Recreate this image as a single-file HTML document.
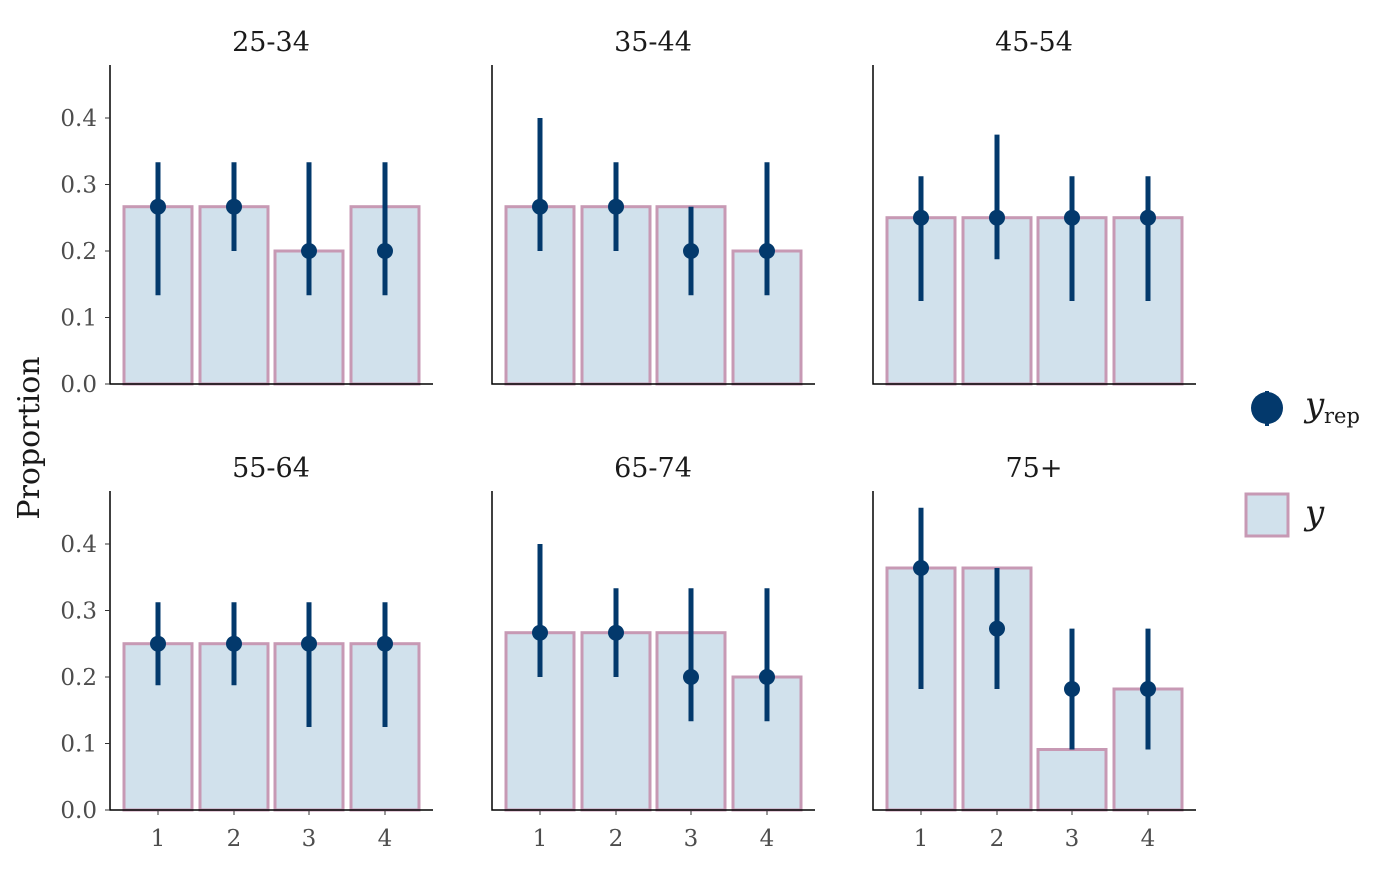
<!DOCTYPE html>
<html><head><meta charset="utf-8"><style>
body{margin:0;background:#fff}
svg text{font-family:"DejaVu Serif","Liberation Serif",serif}
.b{fill:#d1e1ec;stroke:#c799b4;stroke-width:3}
.l{stroke:#03396c;stroke-width:5}
.p{fill:#03396c}
.ax{stroke:#000;stroke-width:1.5;fill:none}
</style></head><body>
<svg width="1400" height="866" xmlns="http://www.w3.org/2000/svg">
<defs>
<g id="yt" font-size="23" fill="#4d4d4d">
<text x="-13" y="8" text-anchor="end">0.0</text><line x1="-5" x2="0" y1="0" y2="0" stroke="#333"/>
<text x="-13" y="-58.5" text-anchor="end">0.1</text><line x1="-5" x2="0" y1="-66.5" y2="-66.5" stroke="#333"/>
<text x="-13" y="-125" text-anchor="end">0.2</text><line x1="-5" x2="0" y1="-133" y2="-133" stroke="#333"/>
<text x="-13" y="-191.5" text-anchor="end">0.3</text><line x1="-5" x2="0" y1="-199.5" y2="-199.5" stroke="#333"/>
<text x="-13" y="-258" text-anchor="end">0.4</text><line x1="-5" x2="0" y1="-266" y2="-266" stroke="#333"/>
</g>
<g id="xt" font-size="23" fill="#4d4d4d">
<line x1="48" x2="48" y1="0" y2="5" stroke="#333"/><text x="48" y="36" text-anchor="middle">1</text>
<line x1="124" x2="124" y1="0" y2="5" stroke="#333"/><text x="124" y="36" text-anchor="middle">2</text>
<line x1="199" x2="199" y1="0" y2="5" stroke="#333"/><text x="199" y="36" text-anchor="middle">3</text>
<line x1="275" x2="275" y1="0" y2="5" stroke="#333"/><text x="275" y="36" text-anchor="middle">4</text>
</g>
<path id="axp" class="ax" d="M0,-319V0H323"/>
</defs>

<g transform="translate(110,384)">
<rect class="b" x="14" y="-177.3" width="68" height="177.3"/><rect class="b" x="90" y="-177.3" width="68" height="177.3"/><rect class="b" x="165" y="-133" width="68" height="133"/><rect class="b" x="241" y="-177.3" width="68" height="177.3"/>
<line class="l" x1="48" x2="48" y1="-88.7" y2="-221.7"/><circle class="p" cx="48" cy="-177.3" r="8"/>
<line class="l" x1="124" x2="124" y1="-133" y2="-221.7"/><circle class="p" cx="124" cy="-177.3" r="8"/>
<line class="l" x1="199" x2="199" y1="-88.7" y2="-221.7"/><circle class="p" cx="199" cy="-133" r="8"/>
<line class="l" x1="275" x2="275" y1="-88.7" y2="-221.7"/><circle class="p" cx="275" cy="-133" r="8"/>
<use href="#axp"/><use href="#yt"/>
<text font-size="27" fill="#1a1a1a" x="161" y="-333" text-anchor="middle">25-34</text>
</g>
<g transform="translate(492,384)">
<rect class="b" x="14" y="-177.3" width="68" height="177.3"/><rect class="b" x="90" y="-177.3" width="68" height="177.3"/><rect class="b" x="165" y="-177.3" width="68" height="177.3"/><rect class="b" x="241" y="-133" width="68" height="133"/>
<line class="l" x1="48" x2="48" y1="-133" y2="-266"/><circle class="p" cx="48" cy="-177.3" r="8"/>
<line class="l" x1="124" x2="124" y1="-133" y2="-221.7"/><circle class="p" cx="124" cy="-177.3" r="8"/>
<line class="l" x1="199" x2="199" y1="-88.7" y2="-177.3"/><circle class="p" cx="199" cy="-133" r="8"/>
<line class="l" x1="275" x2="275" y1="-88.7" y2="-221.7"/><circle class="p" cx="275" cy="-133" r="8"/>
<use href="#axp"/>
<text font-size="27" fill="#1a1a1a" x="161" y="-333" text-anchor="middle">35-44</text>
</g>
<g transform="translate(873,384)">
<rect class="b" x="14" y="-166.3" width="68" height="166.3"/><rect class="b" x="90" y="-166.3" width="68" height="166.3"/><rect class="b" x="165" y="-166.3" width="68" height="166.3"/><rect class="b" x="241" y="-166.3" width="68" height="166.3"/>
<line class="l" x1="48" x2="48" y1="-83" y2="-207.8"/><circle class="p" cx="48" cy="-166.3" r="8"/>
<line class="l" x1="124" x2="124" y1="-124.7" y2="-249.4"/><circle class="p" cx="124" cy="-166.3" r="8"/>
<line class="l" x1="199" x2="199" y1="-83" y2="-207.8"/><circle class="p" cx="199" cy="-166.3" r="8"/>
<line class="l" x1="275" x2="275" y1="-83" y2="-207.8"/><circle class="p" cx="275" cy="-166.3" r="8"/>
<use href="#axp"/>
<text font-size="27" fill="#1a1a1a" x="161" y="-333" text-anchor="middle">45-54</text>
</g>
<g transform="translate(110,810)">
<rect class="b" x="14" y="-166.3" width="68" height="166.3"/><rect class="b" x="90" y="-166.3" width="68" height="166.3"/><rect class="b" x="165" y="-166.3" width="68" height="166.3"/><rect class="b" x="241" y="-166.3" width="68" height="166.3"/>
<line class="l" x1="48" x2="48" y1="-124.7" y2="-207.8"/><circle class="p" cx="48" cy="-166.3" r="8"/>
<line class="l" x1="124" x2="124" y1="-124.7" y2="-207.8"/><circle class="p" cx="124" cy="-166.3" r="8"/>
<line class="l" x1="199" x2="199" y1="-83" y2="-207.8"/><circle class="p" cx="199" cy="-166.3" r="8"/>
<line class="l" x1="275" x2="275" y1="-83" y2="-207.8"/><circle class="p" cx="275" cy="-166.3" r="8"/>
<use href="#axp"/><use href="#yt"/><use href="#xt"/>
<text font-size="27" fill="#1a1a1a" x="161" y="-333" text-anchor="middle">55-64</text>
</g>
<g transform="translate(492,810)">
<rect class="b" x="14" y="-177.3" width="68" height="177.3"/><rect class="b" x="90" y="-177.3" width="68" height="177.3"/><rect class="b" x="165" y="-177.3" width="68" height="177.3"/><rect class="b" x="241" y="-133" width="68" height="133"/>
<line class="l" x1="48" x2="48" y1="-133" y2="-266"/><circle class="p" cx="48" cy="-177.3" r="8"/>
<line class="l" x1="124" x2="124" y1="-133" y2="-221.7"/><circle class="p" cx="124" cy="-177.3" r="8"/>
<line class="l" x1="199" x2="199" y1="-88.7" y2="-221.7"/><circle class="p" cx="199" cy="-133" r="8"/>
<line class="l" x1="275" x2="275" y1="-88.7" y2="-221.7"/><circle class="p" cx="275" cy="-133" r="8"/>
<use href="#axp"/><use href="#xt"/>
<text font-size="27" fill="#1a1a1a" x="161" y="-333" text-anchor="middle">65-74</text>
</g>
<g transform="translate(873,810)">
<rect class="b" x="14" y="-242" width="68" height="242"/><rect class="b" x="90" y="-242" width="68" height="242"/><rect class="b" x="165" y="-60.5" width="68" height="60.5"/><rect class="b" x="241" y="-121" width="68" height="121"/>
<line class="l" x1="48" x2="48" y1="-121" y2="-302.3"/><circle class="p" cx="48" cy="-242" r="8"/>
<line class="l" x1="124" x2="124" y1="-121" y2="-242"/><circle class="p" cx="124" cy="-181.4" r="8"/>
<line class="l" x1="199" x2="199" y1="-60.5" y2="-181.4"/><circle class="p" cx="199" cy="-121" r="8"/>
<line class="l" x1="275" x2="275" y1="-60.5" y2="-181.4"/><circle class="p" cx="275" cy="-121" r="8"/>
<use href="#axp"/><use href="#xt"/>
<text font-size="27" fill="#1a1a1a" x="161" y="-333" text-anchor="middle">75+</text>
</g>

<text font-size="30" fill="#1a1a1a" transform="translate(39,438) rotate(-90)" text-anchor="middle">Proportion</text>

<line x1="1267" x2="1267" y1="391" y2="426" stroke="#03396c" stroke-width="4"/>
<circle cx="1267" cy="408" r="16" fill="#03396c"/>
<text x="1305" y="416" font-size="34" font-style="italic" fill="#1a1a1a">y</text>
<text x="1324" y="423" font-size="21" fill="#1a1a1a">rep</text>
<rect x="1246" y="494" width="42" height="42" class="b"/>
<text x="1305" y="524" font-size="34" font-style="italic" fill="#1a1a1a">y</text>
</svg>
</body></html>
